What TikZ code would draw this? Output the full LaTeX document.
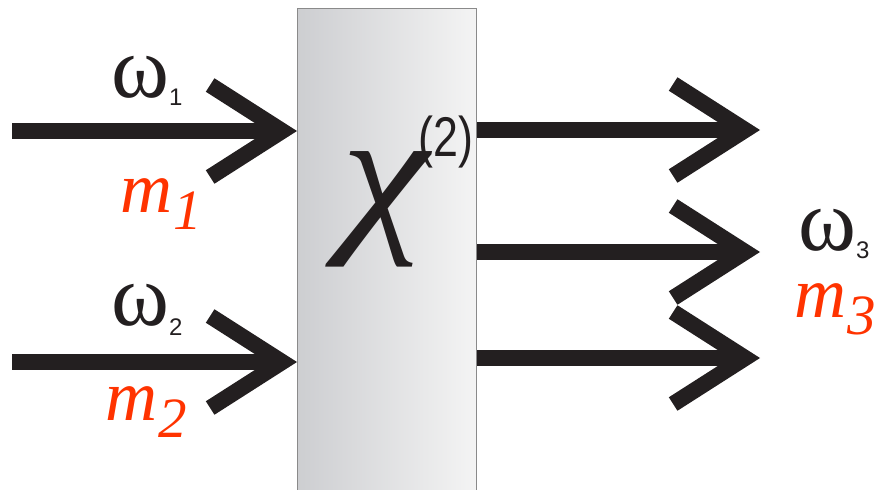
\documentclass[tikz,border=0pt]{standalone}
\usepackage{fontspec}
\setmainfont{Liberation Serif}
\setsansfont{Liberation Sans}
\usetikzlibrary{arrows.meta,positioning}
\definecolor{ink}   {HTML}{231F20}
\definecolor{rim}   {HTML}{8A8A8A}
\definecolor{shadeL}{HTML}{CDCED1}
\definecolor{shadeR}{HTML}{F4F4F4}
\definecolor{mode}  {HTML}{FF3300}
\newcommand{\freq}[2]{{\fontsize{88}{88}\selectfont ω}%
  \raisebox{-#2pt}[0pt][0pt]{\sffamily\fontsize{24}{24}\selectfont #1}}
\newcommand{\modeno}[1]{{\itshape\fontsize{72}{72}\selectfont m\kern1pt%
  \raisebox{-17pt}{\fontsize{57}{57}\selectfont #1}}}
\tikzset{
  crystal/.style={draw=rim, line width=1.2pt, left color=shadeL,
                  right color=shadeR, minimum width=179pt,
                  minimum height=500pt, inner sep=0pt, anchor=north west},
  beam/.style   ={draw=ink, line width=16pt,
                  -{Straight Barb[sharp,length=72pt,width=92pt,line width=16pt]}},
  lab/.style    ={inner sep=0pt, anchor=base west, text=ink},
  mlab/.style   ={lab, text=mode},
}
\begin{document}
\begin{tikzpicture}[x=1pt,y=-1pt]
  \useasboundingbox (0,0) rectangle (876,490);
  \node[crystal] (crystal) at (297,8) {};
  \node[lab] (chi) at (341,230)
    {\rlap{\scalebox{1.15}[1]{\itshape\fontsize{172}{172}\selectfont χ}}%
     \hspace{77pt}\raisebox{74pt}{\scalebox{0.8}[1]{\sffamily\fontsize{56}{56}\selectfont (2)}}};

  \coordinate (in1) at (12,131);
  \coordinate (in2) at (12,362);
  \coordinate (out1) at (760,130);
  \coordinate (out2) at (760,252);
  \coordinate (out3) at (760,358);

  \draw[beam] (in1) -- (in1 -| crystal.west);
  \draw[beam] (in2) -- (in2 -| crystal.west);
  \draw[beam] (out1 -| crystal.east) -- (out1);
  \draw[beam] (out2 -| crystal.east) -- (out2);
  \draw[beam] (out3 -| crystal.east) -- (out3);

  \node[lab]  (w1) at (111,97)  {\freq{1}{8}};
  \node[mlab] (m1) at (120,212) {\modeno{1}};
  \node[lab]  (w2) at (111,325) {\freq{2}{10}};
  \node[mlab] (m2) at (105,420) {\modeno{2}};
  \node[lab]  (w3) at (798,250) {\freq{3}{8}};
  \node[mlab] (m3) at (794,317) {\modeno{3}};
\end{tikzpicture}
\end{document}
